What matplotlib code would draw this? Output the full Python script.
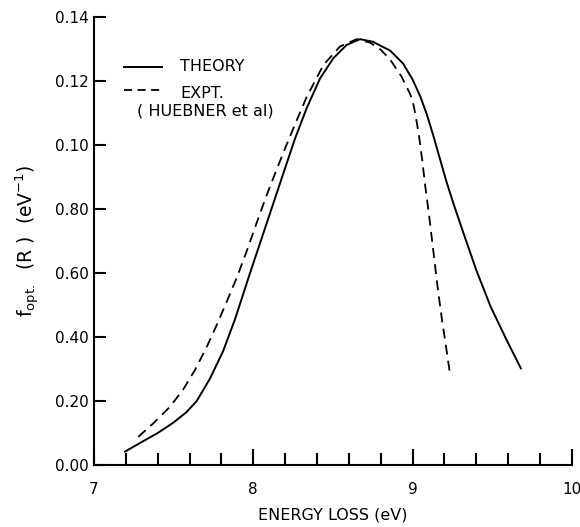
import matplotlib
matplotlib.use("Agg")
import matplotlib.pyplot as plt
from matplotlib.ticker import MultipleLocator

# Data
theory_x = [7.195, 7.30, 7.40, 7.50, 7.58, 7.645, 7.728, 7.81, 7.885, 7.979, 8.063,
            8.147, 8.21, 8.262, 8.335, 8.419, 8.502, 8.586, 8.67, 8.75, 8.86, 8.94,
            9.00, 9.05, 9.09, 9.13, 9.17, 9.21, 9.26, 9.32, 9.40, 9.49, 9.59, 9.68]
theory_y = [0.0042, 0.0072, 0.0100, 0.0133, 0.0165, 0.0200, 0.0270, 0.0355, 0.0455,
            0.0599, 0.0724, 0.0849, 0.0943, 0.1020, 0.1115, 0.1208, 0.1271, 0.1313,
            0.1331, 0.1323, 0.1295, 0.1255, 0.1205, 0.1150, 0.1095, 0.1030, 0.0960,
            0.0890, 0.0812, 0.0724, 0.0609, 0.0495, 0.0391, 0.0302]

expt_x = [7.278, 7.372, 7.477, 7.56, 7.634, 7.707, 7.77, 7.833, 7.90, 7.96, 8.02,
          8.08, 8.14, 8.20, 8.26, 8.335, 8.44, 8.544, 8.649, 8.733, 8.80, 8.858,
          8.932, 8.984, 9.00, 9.02, 9.04, 9.06, 9.08, 9.105, 9.13, 9.155, 9.18,
          9.21, 9.235]
expt_y = [0.0088, 0.0130, 0.0182, 0.0236, 0.0297, 0.0368, 0.0437, 0.0510, 0.0590,
          0.0670, 0.0755, 0.0838, 0.0915, 0.0990, 0.1062, 0.1150, 0.1250, 0.1308,
          0.1331, 0.1320, 0.1298, 0.1268, 0.1213, 0.1160, 0.1140, 0.1090, 0.1030,
          0.0955, 0.0870, 0.0775, 0.0670, 0.0565, 0.0470, 0.0370, 0.0284]

y_ticks = [0.00, 0.02, 0.04, 0.06, 0.08, 0.10, 0.12, 0.14]
y_tick_labels = ["0.00", "0.20", "0.40", "0.60", "0.80", "0.10", "0.12", "0.14"]
x_ticks = [7, 8, 9, 10]
x_tick_labels = ["7", "8", "9", "10"]

plt.rcParams['font.family'] = ['DejaVu Sans']

fig = plt.figure(figsize=(5.8, 5.27), dpi=100)
ax = fig.add_axes([0.162, 0.1176, 0.824, 0.850])

ax.plot(theory_x, theory_y, color='black', lw=1.4, solid_joinstyle='round')
ax.plot(expt_x, expt_y, color='black', lw=1.3, dashes=(5.5, 3.5))

ax.set_xlim(7, 10)
ax.set_ylim(0, 0.14)

for s in ['top', 'right']:
    ax.spines[s].set_visible(False)
for s in ['left', 'bottom']:
    ax.spines[s].set_linewidth(1.5)

ax.set_xticks(x_ticks)
ax.set_xticklabels(x_tick_labels)
ax.xaxis.set_minor_locator(MultipleLocator(0.2))
ax.set_yticks(y_ticks)
ax.set_yticklabels(y_tick_labels)

ax.tick_params(axis='x', which='major', direction='in', length=11.5, width=1.5,
               labelsize=11, pad=12)
ax.tick_params(axis='x', which='minor', direction='in', length=8.5, width=1.5)
ax.tick_params(axis='y', which='major', direction='in', length=8.5, width=1.5,
               labelsize=11, pad=4)

ax.set_xlabel("ENERGY LOSS (eV)", fontsize=11.5, labelpad=8)
ax.set_ylabel(r"f$_{\mathregular{opt.}}$  (R )  (eV$^{-1}$)", fontsize=13.5, labelpad=9)

# legend drawn manually
ax.plot([7.19, 7.43], [0.1245, 0.1245], color='black', lw=1.4)
ax.plot([7.19, 7.43], [0.1173, 0.1173], color='black', lw=1.3, dashes=(4.5, 3))
ax.text(7.54, 0.1245, "THEORY", fontsize=11.5, va='center', ha='left')
ax.text(7.54, 0.1160, "EXPT.", fontsize=11.5, va='center', ha='left')
ax.text(7.27, 0.1105, "( HUEBNER et al)", fontsize=11.5, va='center', ha='left')

fig.savefig("out.png", dpi=100)
